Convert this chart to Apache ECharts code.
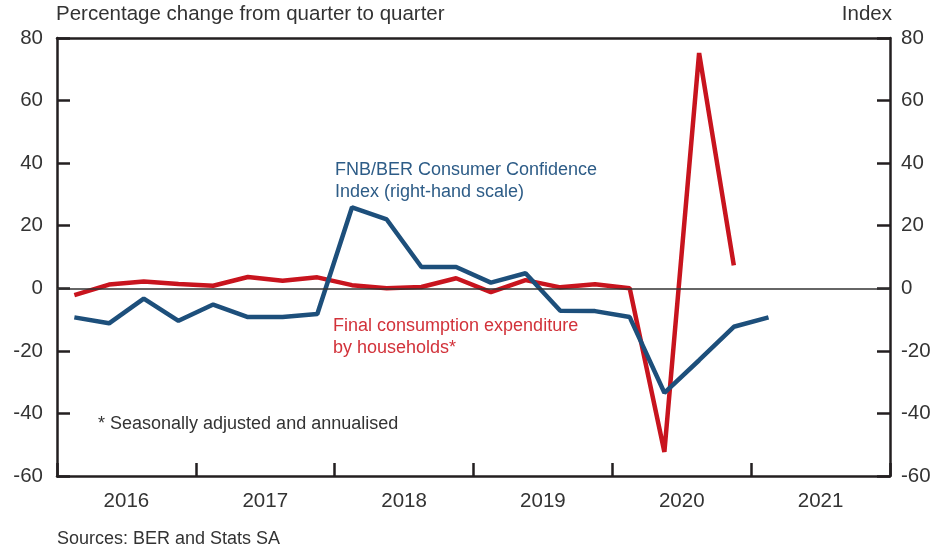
<!DOCTYPE html>
<html>
<head>
<meta charset="utf-8">
<script src="https://cdn.jsdelivr.net/npm/echarts@6/dist/echarts.min.js"></script>
<style>
  html, body { margin: 0; padding: 0; background: #fff; }
  #contain { width: 937px; height: 551px; }
</style>
</head>
<body>
<div id="contain"></div>
<script>
// year labels on the x axis (each year holds 4 quarters)
const years = ['2016', '2017', '2018', '2019', '2020', '2021']
// quarter index from 2016Q1 (0) onwards
const quarters = ['2016Q1','2016Q2','2016Q3','2016Q4','2017Q1','2017Q2','2017Q3','2017Q4',
  '2018Q1','2018Q2','2018Q3','2018Q4','2019Q1','2019Q2','2019Q3','2019Q4',
  '2020Q1','2020Q2','2020Q3','2020Q4','2021Q1']
// final consumption expenditure by households, % q/q saar (left scale)
const consumption = [-2.2, 1.2, 2.2, 1.4, 0.8, 3.6, 2.4, 3.5,
  1.0, 0.0, 0.4, 3.2, -1.2, 2.6, 0.3, 1.3,
  0.0, -52.3, 75.2, 7.3]
// FNB/BER consumer confidence index (right scale)
const confidence = [-9.3, -11.2, -3.3, -10.4, -5.2, -9.2, -9.2, -8.2,
  25.9, 22.0, 6.8, 6.8, 1.8, 4.8, -7.2, -7.3,
  -9.2, -33.4, -23.0, -12.3, -9.3]
const yTicks = { min: -60, max: 80, step: 20 }

const chart = echarts.init(document.getElementById('contain'))
const ink = '#231f20'
const font = 'Liberation Sans, Arial, sans-serif'

const toPts = (arr) => arr.map((v, i) => [i + 0.5, v])

const yAxisBase = (pos) => ({
  type: 'value',
  position: pos,
  min: yTicks.min,
  max: yTicks.max,
  interval: yTicks.step,
  axisLine: { show: true, onZero: false, lineStyle: { color: ink, width: 2.5 } },
  axisTick: { show: true, inside: true, length: 13, lineStyle: { color: ink, width: 2.5 } },
  axisLabel: { color: '#333', fontSize: 20.5, fontFamily: font, margin: pos === 'left' ? 14 : 11 },
  splitLine: { show: false }
})

const option = {
  animation: false,
  grid: { left: 57, right: 47, top: 38, bottom: 75 },
  xAxis: [
    {
      type: 'category',
      data: years,
      position: 'bottom',
      boundaryGap: true,
      axisLine: { onZero: false, lineStyle: { color: ink, width: 2.5 } },
      axisTick: { show: true, inside: true, length: 13, lineStyle: { color: ink, width: 2.5 } },
      axisLabel: { color: '#333', fontSize: 20.5, fontFamily: font, margin: 15 },
      splitLine: { show: false }
    },
    {
      type: 'value',
      position: 'top',
      min: 0,
      max: years.length * 4,
      axisLine: { show: true, onZero: false, lineStyle: { color: ink, width: 2.5 } },
      axisTick: { show: false },
      axisLabel: { show: false },
      splitLine: { show: false }
    }
  ],
  yAxis: [yAxisBase('left'), yAxisBase('right')],
  series: [
    {
      name: 'Final consumption expenditure by households*',
      type: 'line',
      xAxisIndex: 1,
      yAxisIndex: 0,
      data: toPts(consumption),
      symbol: 'none',
      lineStyle: { color: '#c8141e', width: 4.5 },
      markLine: {
        silent: true,
        symbol: ['none', 'none'],
        label: { show: false },
        lineStyle: { color: '#333', width: 1.5, type: 'solid' },
        data: [{ yAxis: 0 }]
      }
    },
    {
      name: 'FNB/BER Consumer Confidence Index',
      type: 'line',
      xAxisIndex: 1,
      yAxisIndex: 1,
      data: toPts(confidence),
      symbol: 'none',
      lineStyle: { color: '#1d4f7b', width: 4.5 }
    }
  ],
  graphic: [
    { type: 'text', left: 56, top: 4, style: { text: 'Percentage change from quarter to quarter', fill: '#333', font: '20.5px ' + font } },
    { type: 'text', right: 45, top: 4, style: { text: 'Index', fill: '#333', font: '20.5px ' + font } },
    { type: 'text', left: 335, top: 159, style: { text: 'FNB/BER Consumer Confidence\nIndex (right-hand scale)', fill: '#2d5c87', font: '18px ' + font, lineHeight: 22 } },
    { type: 'text', left: 333, top: 315, style: { text: 'Final consumption expenditure\nby households*', fill: '#d2323a', font: '18px ' + font, lineHeight: 22 } },
    { type: 'text', left: 98, top: 415, style: { text: '* Seasonally adjusted and annualised', fill: '#333', font: '18px ' + font } },
    { type: 'text', left: 57, top: 530, style: { text: 'Sources: BER and Stats SA', fill: '#333', font: '18px ' + font } }
  ]
}

chart.setOption(option)
</script>
</body>
</html>
